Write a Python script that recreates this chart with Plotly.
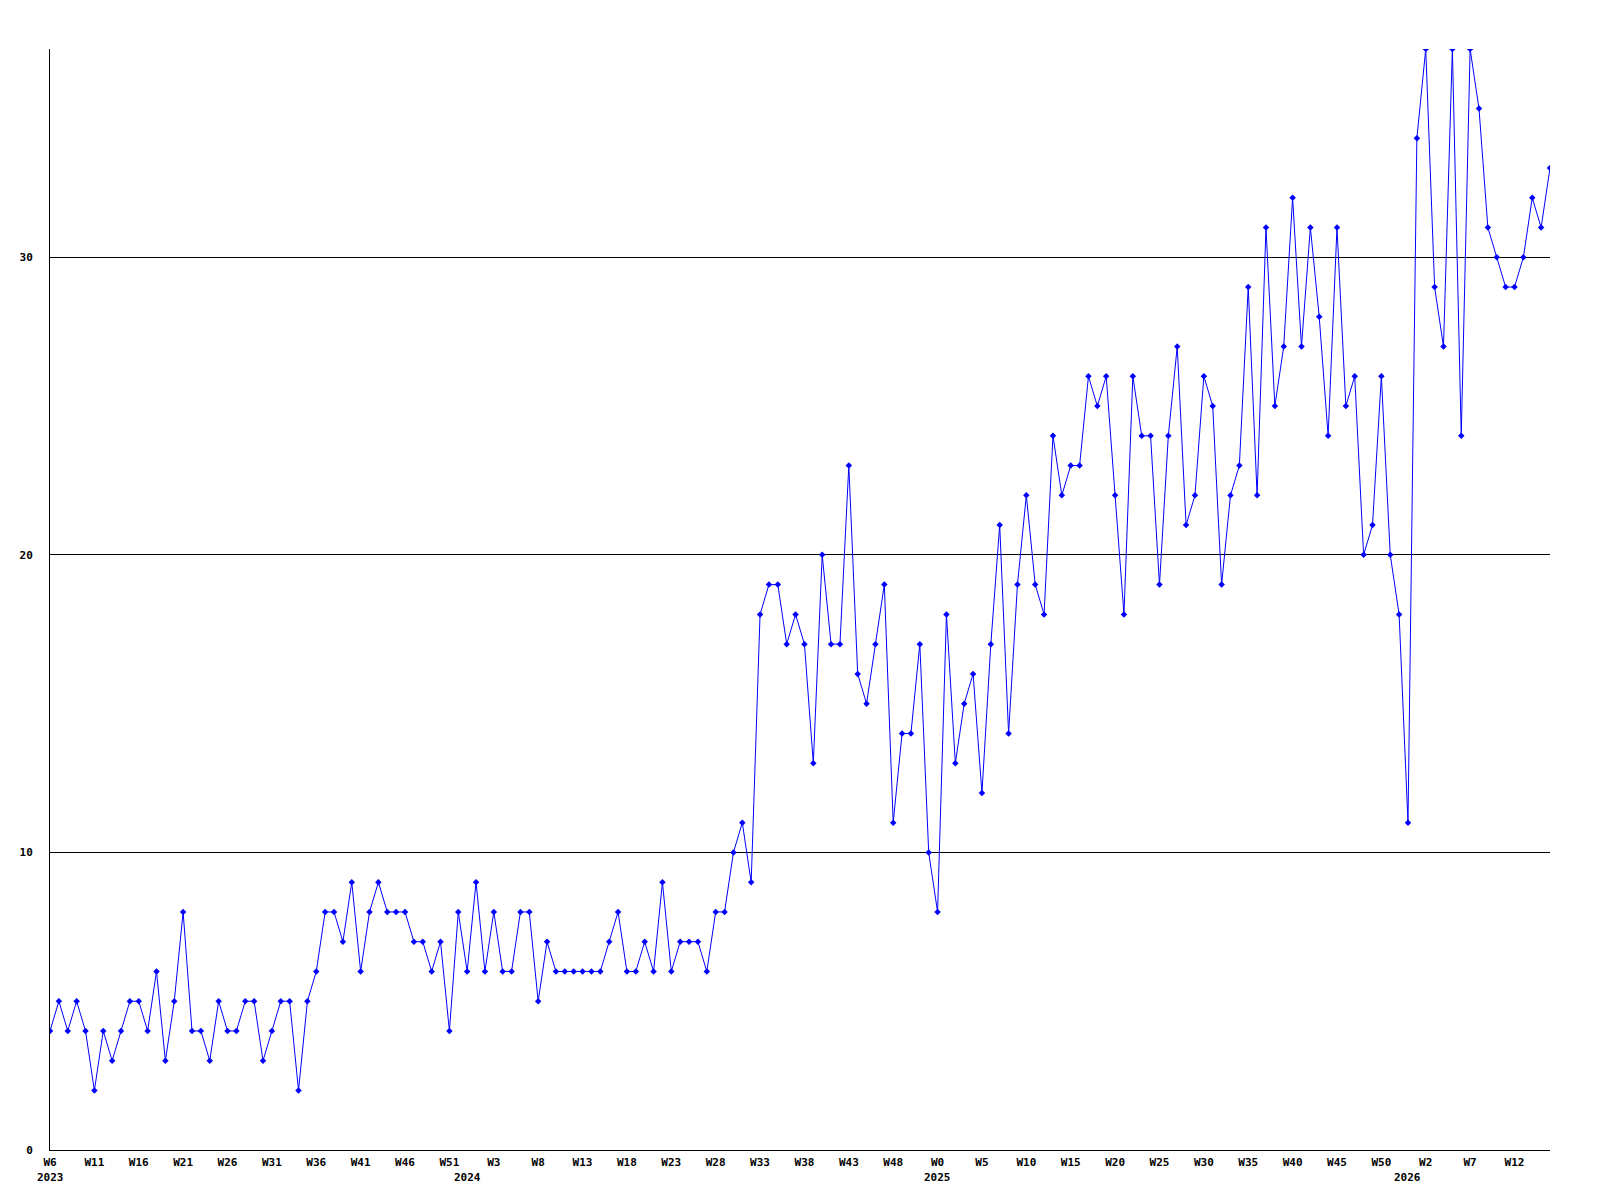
import plotly.graph_objects as go

# weekly counts, 2023 W6 .. 2026 W16
counts = [
    4, 5, 4, 5, 4, 2, 4, 3, 4, 5, 5, 4, 6, 3, 5, 8, 4, 4, 3, 5, 4, 4, 5, 5, 3, 4, 5, 5, 2, 5, 6, 8,
    8, 7, 9, 6, 8, 9, 8, 8, 8, 7, 7, 6, 7, 4, 8, 6, 9, 6, 8, 6, 6, 8, 8, 5, 7, 6, 6, 6, 6, 6, 6, 7, 8,
    6, 6, 7, 6, 9, 6, 7, 7, 7, 6, 8, 8, 10, 11, 9, 18, 19, 19, 17, 18, 17, 13, 20, 17, 17, 23, 16, 15, 17, 19, 11,
    14, 14, 17, 10, 8, 18, 13, 15, 16, 12, 17, 21, 14, 19, 22, 19, 18, 24, 22, 23, 23, 26, 25, 26, 22, 18, 26, 24, 24,
    19, 24, 27, 21, 22, 26, 25, 19, 22, 23, 29, 22, 31, 25, 27, 32, 27, 31, 28, 24, 31, 25, 26, 20, 21, 26, 20, 18, 11,
    34, 37, 29, 27, 37, 24, 37, 35, 31, 30, 29, 29, 30, 32, 31, 33,
]

week_ticks = ["W6", "W11", "W16", "W21", "W26", "W31", "W36", "W41", "W46", "W51",
              "W3", "W8", "W13", "W18", "W23", "W28", "W33", "W38", "W43", "W48",
              "W0", "W5", "W10", "W15", "W20", "W25", "W30", "W35", "W40", "W45", "W50",
              "W2", "W7", "W12"]
tick_step = 5

years = ["2023", "2024", "2025", "2026"]
year_start_idx = [0, 47, 100, 153]

y_ticks = [0, 10, 20, 30]

idx = list(range(len(counts)))
font = dict(family="DejaVu Sans Mono", size=11, color="black", weight="bold")

fig = go.Figure()
fig.add_trace(go.Scatter(
    x=idx, y=counts,
    mode="lines+markers",
    line=dict(color="#0000ff", width=1),
    marker=dict(symbol="diamond", size=5, color="#0000ff"),
    showlegend=False,
))

for yr, pos in zip(years, year_start_idx):
    fig.add_annotation(
        x=pos, y=0, xref="x", yref="paper",
        text=yr, showarrow=False, yanchor="top", yshift=-19,
        font=font,
    )

# page body adds an 8px offset, so margins are trimmed on the left/top
fig.update_layout(
    width=1600, height=1200,
    margin=dict(l=42, r=58, t=41, b=58),
    paper_bgcolor="white", plot_bgcolor="white",
    font=font,
    xaxis=dict(
        range=[0, len(counts) - 1],
        tickvals=idx[::tick_step][:len(week_ticks)],
        ticktext=week_ticks,
        showgrid=False, zeroline=False,
        showline=True, linecolor="black", linewidth=1,
        ticks="", tickfont=font, ticklabelstandoff=2,
    ),
    yaxis=dict(
        range=[0, 37],
        tickvals=y_ticks,
        showgrid=True, gridcolor="black", gridwidth=1,
        zeroline=False,
        showline=True, linecolor="black", linewidth=1,
        ticks="", tickfont=font, ticklabelstandoff=14,
    ),
)

fig.write_html("out.html")
